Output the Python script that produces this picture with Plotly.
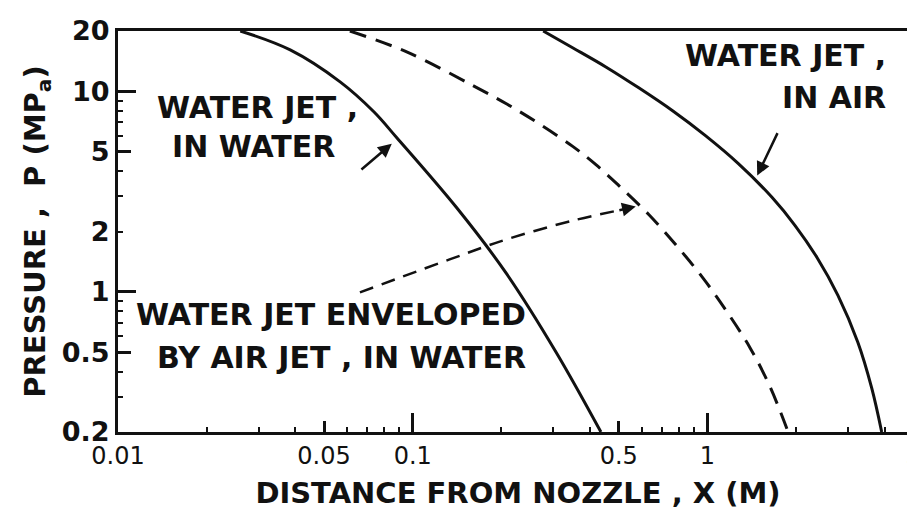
import math
import plotly.graph_objects as go

# ---------------- data ----------------
x_ticks = [0.01, 0.05, 0.1, 0.5, 1, 5]
x_tick_labels = ["0.01", "0.05", "0.1", "0.5", "1", "5"]
x_minor = [0.02, 0.03, 0.04, 0.06, 0.07, 0.08, 0.09,
           0.2, 0.3, 0.4, 0.6, 0.7, 0.8, 0.9, 2, 3, 4]
x_mid_ticks = [0.05, 0.5]
x_long_ticks = [0.1, 1]
x_limits = [0.01, 5.18]

y_ticks = [0.2, 0.5, 1, 2, 5, 10, 20]
y_tick_labels = ["0.2", "0.5", "1", "2", "5", "10", "20"]
y_minor = [0.3, 0.4, 0.6, 0.7, 0.8, 0.9, 3, 4, 6, 7, 8, 9]
y_mid_ticks = [0.5, 5]
y_long_ticks = [1, 10]
y_limits = [0.2, 20]

# Water jet, in water (solid)
in_water_x = [0.0260, 0.0384, 0.0567, 0.0738, 0.0883, 0.1408, 0.2078, 0.3065, 0.4350]
in_water_p = [20, 16.09, 11.15, 7.91, 5.87, 2.633, 1.236, 0.50, 0.2]

# Water jet enveloped by air jet, in water (dashed)
enveloped_x = [0.0612, 0.0954, 0.1607, 0.2078, 0.2686, 0.3499, 0.4183, 0.5004,
               0.6320, 0.7796, 0.9618, 1.150, 1.397, 1.632, 1.878]
enveloped_p = [20, 15.73, 10.65, 8.67, 6.89, 5.30, 4.31, 3.39,
               2.43, 1.723, 1.181, 0.818, 0.524, 0.335, 0.2]

# Water jet, in air (solid)
in_air_x = [0.2771, 0.3499, 0.4521, 0.5846, 0.7615, 0.9845, 1.273, 1.658,
            1.983, 2.353, 2.771, 3.237, 3.609, 3.901]
in_air_p = [20, 16.46, 13.24, 10.41, 8.0, 6.01, 4.36, 2.953,
            2.142, 1.484, 0.961, 0.561, 0.331, 0.2]

# dashed leader from the "enveloped" label towards its curve
leader_x = [0.0662, 0.1334, 0.2078, 0.3499, 0.4965]
leader_p = [0.994, 1.451, 1.825, 2.269, 2.545]

# label anchors (text, x, p, anchor)
labels = [
    ("WATER JET ,", 0.0297, 8.27, "center"),
    ("IN WATER", 0.0288, 5.30, "center"),
    ("WATER JET ,", 4.089, 15.05, "right"),
    ("IN AIR", 4.089, 9.28, "right"),
    ("WATER JET ENVELOPED", 0.2465, 0.772, "right"),
    ("BY AIR JET , IN WATER", 0.2465, 0.471, "right"),
]

# arrows: (head x, head p, tail x, tail p)
arrows = [
    (0.0849, 5.48, 0.0662, 4.02),
    (1.475, 3.80, 1.738, 6.30),
    (0.5711, 2.664, 0.4965, 2.545),
]

# ---------------- figure ----------------
INK = "#111111"
FONT = "DejaVu Sans"
X_RANGE = [math.log10(v) for v in x_limits]
Y_RANGE = [math.log10(v) for v in y_limits]

fig = go.Figure()

line_style = dict(color=INK, width=3, shape="spline", smoothing=1.0)
fig.add_trace(go.Scatter(x=in_water_x, y=in_water_p, mode="lines",
                         name="Water jet, in water", line=line_style,
                         hoverinfo="skip", showlegend=False))
fig.add_trace(go.Scatter(x=enveloped_x, y=enveloped_p, mode="lines",
                         name="Water jet enveloped by air jet, in water",
                         line=dict(line_style, dash="17px,10px"),
                         hoverinfo="skip", showlegend=False))
fig.add_trace(go.Scatter(x=in_air_x, y=in_air_p, mode="lines",
                         name="Water jet, in air", line=line_style,
                         hoverinfo="skip", showlegend=False))
fig.add_trace(go.Scatter(x=leader_x, y=leader_p, mode="lines",
                         line=dict(color=INK, width=2.5, dash="14px,9px",
                                   shape="spline"),
                         hoverinfo="skip", showlegend=False))

# invisible traces to carry overlay axes for longer tick marks
fig.add_trace(go.Scatter(x=[x_limits[0]], y=[y_limits[0]], xaxis="x2", yaxis="y2",
                         mode="lines", hoverinfo="skip", showlegend=False))
fig.add_trace(go.Scatter(x=[x_limits[0]], y=[y_limits[0]], xaxis="x3", yaxis="y3",
                         mode="lines", hoverinfo="skip", showlegend=False))

tick_font = dict(family=FONT, size=24, color=INK)
ytick_font = dict(family=FONT, size=27, color=INK, weight="bold")
title_font = dict(family=FONT, size=29, color=INK, weight="bold")

fig.update_layout(
    width=915, height=511,
    margin=dict(l=110, r=2, t=23, b=87),
    paper_bgcolor="white", plot_bgcolor="white",
    xaxis=dict(
        type="log", range=X_RANGE, tickmode="array",
        tickvals=x_ticks, ticktext=x_tick_labels,
        ticks="inside", ticklen=5, tickwidth=2, tickcolor=INK,
        tickfont=tick_font, ticklabelstandoff=0, ticklabeloverflow="allow",
        showline=True, linewidth=3, linecolor=INK, mirror=True,
        showgrid=False, zeroline=False,
        minor=dict(tickmode="array", tickvals=x_minor, ticks="inside",
                   ticklen=5, tickwidth=2, tickcolor=INK, showgrid=False),
        title=dict(text="DISTANCE FROM NOZZLE , X (M)", font=title_font,
                   standoff=14),
    ),
    yaxis=dict(
        type="log", range=Y_RANGE, tickmode="array",
        tickvals=y_ticks, ticktext=y_tick_labels,
        ticks="inside", ticklen=5, tickwidth=2, tickcolor=INK,
        tickfont=ytick_font, ticklabelstandoff=0,
        showline=True, linewidth=3, linecolor=INK, mirror=True,
        showgrid=False, zeroline=False,
        minor=dict(tickmode="array", tickvals=y_minor, ticks="inside",
                   ticklen=5, tickwidth=2, tickcolor=INK, showgrid=False),
        title=dict(text="PRESSURE ,\u00a0\u00a0P (MP<sub>a</sub>)",
                   font=title_font, standoff=8),
    ),
    xaxis2=dict(type="log", range=X_RANGE, overlaying="x", anchor="y2",
                side="bottom", tickmode="array", tickvals=x_mid_ticks,
                ticks="inside", ticklen=11, tickwidth=2.5, tickcolor=INK,
                showticklabels=False, showline=False, showgrid=False,
                zeroline=False),
    yaxis2=dict(type="log", range=Y_RANGE, overlaying="y", anchor="x2",
                side="left", tickmode="array", tickvals=y_mid_ticks,
                ticks="inside", ticklen=13, tickwidth=2.5, tickcolor=INK,
                showticklabels=False, showline=False, showgrid=False,
                zeroline=False),
    xaxis3=dict(type="log", range=X_RANGE, overlaying="x", anchor="y3",
                side="bottom", tickmode="array", tickvals=x_long_ticks,
                ticks="inside", ticklen=19, tickwidth=2.5, tickcolor=INK,
                showticklabels=False, showline=False, showgrid=False,
                zeroline=False),
    yaxis3=dict(type="log", range=Y_RANGE, overlaying="y", anchor="x3",
                side="left", tickmode="array", tickvals=y_long_ticks,
                ticks="inside", ticklen=18, tickwidth=2.5, tickcolor=INK,
                showticklabels=False, showline=False, showgrid=False,
                zeroline=False),
)

label_font = dict(family=FONT, size=30, color=INK, weight="bold")
for text, lx, lp, anchor in labels:
    fig.add_annotation(x=math.log10(lx), y=math.log10(lp), xref="x", yref="y",
                       text=text, showarrow=False, xanchor=anchor,
                       yanchor="middle", font=label_font)

for hx, hp, tx, tp in arrows:
    fig.add_annotation(x=math.log10(hx), y=math.log10(hp), xref="x", yref="y",
                       ax=math.log10(tx), ay=math.log10(tp),
                       axref="x", ayref="y", text="", showarrow=True,
                       arrowhead=2, arrowsize=1.1, arrowwidth=2.5,
                       arrowcolor=INK, standoff=0, startstandoff=0)

fig.write_html("out.html")
